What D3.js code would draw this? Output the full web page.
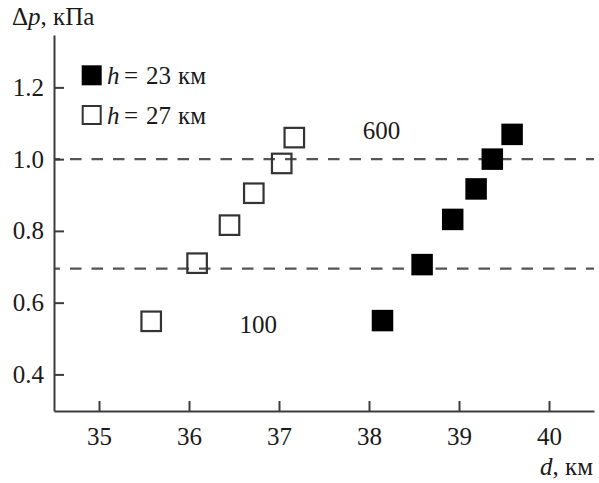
<!DOCTYPE html>
<html>
<head>
<meta charset="utf-8">
<script src="https://cdn.jsdelivr.net/npm/d3@7/dist/d3.min.js"></script>
<style>
  html, body { margin: 0; padding: 0; background: #fff; }
  svg { display: block; }
</style>
</head>
<body>
<svg id="chart" width="599" height="483"></svg>
<script>
// Pressure jump Δp versus distance d for two burst heights
const dFilled = [38.15, 38.59, 38.93, 39.19, 39.37, 39.59];     // h = 23 km
const pFilled = [0.550, 0.706, 0.832, 0.917, 1.000, 1.069];
const dOpen   = [35.58, 36.09, 36.45, 36.72, 37.03, 37.17];     // h = 27 km
const pOpen   = [0.548, 0.710, 0.816, 0.905, 0.988, 1.060];
const levels  = [0.695, 1.0];                                   // dashed reference levels
const levelLabels = [
  { text: "100", d: 36.56, p: 0.516 },
  { text: "600", d: 37.93, p: 1.055 }
];
const xTicks = [35, 36, 37, 38, 39, 40];
const yTicks = [0.4, 0.6, 0.8, 1.0, 1.2];
const legendItems = [
  { h: "23", filled: true },
  { h: "27", filled: false }
];

const FAMILY = "Liberation Serif";
const FONT = 25;
const TEXT_COLOR = "#1a1a1a";
const axisColor = "#3c3c3c";

const svg = d3.select("#chart")
  .attr("font-family", FAMILY).attr("font-size", FONT);

const x = d3.scaleLinear().domain([34.5, 40.5]).range([54, 594]);
const y = d3.scaleLinear().domain([0.298, 1.346]).range([411, 35]);

// dashed horizontal levels
svg.append("g").selectAll("line").data(levels).join("line")
  .attr("x1", x(34.5)).attr("x2", x(40.5))
  .attr("y1", d => y(d)).attr("y2", d => y(d))
  .attr("stroke", "#555").attr("stroke-width", 2.2)
  .attr("stroke-dasharray", "11.5,10").attr("stroke-dashoffset", 5.5);

// axes with inward ticks
const xAxis = d3.axisBottom(x).tickValues(xTicks).tickFormat(d3.format("d"))
  .tickSizeInner(-10).tickSizeOuter(0).tickPadding(16);
const yAxis = d3.axisLeft(y).tickValues(yTicks).tickFormat(d3.format(".1f"))
  .tickSizeInner(-10).tickSizeOuter(0).tickPadding(10);

const gx = svg.append("g").attr("transform", `translate(0,${y(0.298)})`).call(xAxis);
const gy = svg.append("g").attr("transform", `translate(${x(34.5)},0)`).call(yAxis);
[gx, gy].forEach(g => {
  g.attr("font-family", FAMILY).attr("font-size", FONT);
  g.select(".domain").attr("stroke", axisColor).attr("stroke-width", 2);
  g.selectAll(".tick line").attr("stroke", axisColor).attr("stroke-width", 2);
  g.selectAll(".tick text").attr("fill", TEXT_COLOR);
});

// markers
const S = 21.5;
svg.append("g").selectAll("rect").data(dFilled.map((d, i) => [d, pFilled[i]])).join("rect")
  .attr("x", d => x(d[0]) - S / 2).attr("y", d => y(d[1]) - S / 2)
  .attr("width", S).attr("height", S).attr("fill", "#000");

const So = 19.5;
svg.append("g").selectAll("rect").data(dOpen.map((d, i) => [d, pOpen[i]])).join("rect")
  .attr("x", d => x(d[0]) - So / 2).attr("y", d => y(d[1]) - So / 2)
  .attr("width", So).attr("height", So)
  .attr("fill", "none").attr("stroke", "#333").attr("stroke-width", 2.2);

// level labels
svg.append("g").selectAll("text").data(levelLabels).join("text")
  .attr("x", d => x(d.d)).attr("y", d => y(d.p))
  .attr("fill", TEXT_COLOR).text(d => d.text);

// legend
const lg = svg.append("g");
legendItems.forEach((it, i) => {
  const cy = 75.3 + i * 39.7;
  const r = lg.append("rect");
  if (it.filled) {
    r.attr("x", 81.7).attr("y", cy - 10).attr("width", 20).attr("height", 20).attr("fill", "#000");
  } else {
    r.attr("x", 82.7).attr("y", cy - 9).attr("width", 18).attr("height", 18)
      .attr("fill", "none").attr("stroke", "#333").attr("stroke-width", 2);
  }
  const base = cy + 8.5;
  const t = lg.append("text").attr("y", base).attr("fill", TEXT_COLOR);
  t.append("tspan").attr("x", 107).attr("font-style", "italic").text("h");
  t.append("tspan").attr("x", 124).text("=");
  t.append("tspan").attr("x", 146).text(it.h);
  t.append("tspan").attr("x", 178).text("км");
});

// axis titles
const ty = svg.append("text").attr("x", 12).attr("y", 25).attr("fill", TEXT_COLOR);
ty.append("tspan").text("Δ");
ty.append("tspan").attr("font-style", "italic").text("p");
ty.append("tspan").text(", кПа");

const tx = svg.append("text").attr("x", 593).attr("y", 475)
  .attr("text-anchor", "end").attr("fill", TEXT_COLOR);
tx.append("tspan").attr("font-style", "italic").text("d");
tx.append("tspan").text(", км");
</script>
</body>
</html>
